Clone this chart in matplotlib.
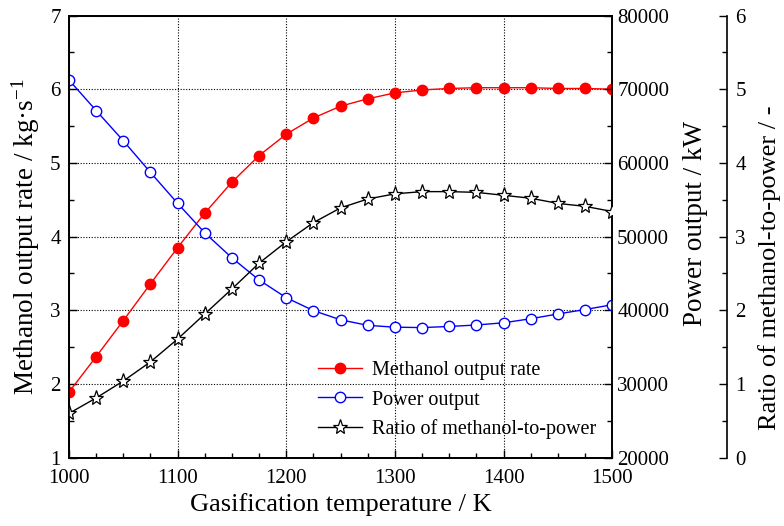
import numpy as np
import matplotlib
matplotlib.use("Agg")
from matplotlib import pyplot as plt
from matplotlib.ticker import MultipleLocator

plt.rcParams["font.family"] = ["Liberation Serif", "DejaVu Serif"]
plt.rcParams["mathtext.default"] = "regular"

temperature = list(range(1000, 1501, 25))
methanol_rate = [1.89, 2.37, 2.86, 3.36, 3.85, 4.32, 4.74, 5.10, 5.39, 5.61, 5.77,
                 5.87, 5.95, 5.99, 6.01, 6.02, 6.02, 6.02, 6.01, 6.01, 6.00]
power_output = [71250, 67100, 63000, 58700, 54500, 50500, 47100, 44100, 41700, 39950,
                38700, 37950, 37700, 37650, 37800, 38000, 38300, 38850, 39500, 40100, 40750]
ratio = [0.60, 0.81, 1.04, 1.30, 1.61, 1.95, 2.29, 2.64, 2.93, 3.19, 3.39,
         3.51, 3.58, 3.61, 3.61, 3.60, 3.56, 3.52, 3.45, 3.41, 3.34]

fig = plt.figure(figsize=(7.84, 5.26), dpi=100)
ax = fig.add_axes([0.088, 0.13, 0.693, 0.8405])
ax2 = ax.twinx()
ax3 = ax.twinx()
ax3.spines["right"].set_position(("axes", 1.211))

l1, = ax.plot(temperature, methanol_rate, "-o", color="red", lw=1, ms=7.5,
              mfc="red", mec="red", label="Methanol output rate", zorder=3)
l2, = ax2.plot(temperature, power_output, "-o", color="blue", lw=1, ms=7.5,
               mfc="white", mec="blue", label="Power output")
l3, = ax3.plot(temperature, ratio, "-*", color="black", lw=1, ms=11,
               mfc="white", mec="black", mew=0.9, label="Ratio of methanol-to-power")

ax.set_xlim(1000, 1500)
ax.set_ylim(1, 7)
ax2.set_ylim(20000, 80000)
ax3.set_ylim(0, 6)

ax.xaxis.set_major_locator(MultipleLocator(100))
ax.xaxis.set_minor_locator(MultipleLocator(25))
ax.yaxis.set_major_locator(MultipleLocator(1))
ax.yaxis.set_minor_locator(MultipleLocator(0.5))
ax2.yaxis.set_major_locator(MultipleLocator(10000))
ax2.yaxis.set_minor_locator(MultipleLocator(5000))
ax3.yaxis.set_major_locator(MultipleLocator(1))
ax3.yaxis.set_minor_locator(MultipleLocator(0.5))

ax.grid(True, which="major", color="black", ls=(0, (1, 1.5)), lw=0.8)

for a in (ax, ax2, ax3):
    a.tick_params(which="both", direction="in", labelsize=15)
    a.tick_params(which="major", length=6, width=1)
    a.tick_params(which="minor", length=3.5, width=1)
    for s in a.spines.values():
        s.set_linewidth(1.2)
ax.tick_params(axis="x", pad=8)
ax.tick_params(axis="y", pad=6)
ax3.tick_params(axis="y", pad=6)

ax.set_xlabel("Gasification temperature / K", fontsize=19)
ax.set_ylabel("Methanol output rate / kg·s$^{-1}$", fontsize=19.5)
ax2.set_ylabel("Power output / kW", fontsize=19.5)
ax3.set_ylabel("Ratio of methanol-to-power / -", fontsize=19)
ax.yaxis.set_label_coords(-0.05, 0.5)
ax2.yaxis.set_label_coords(1.13, 0.53)
ax3.yaxis.set_label_coords(1.268, 0.43)

ax.legend(handles=[l1, l2, l3], loc="lower left", bbox_to_anchor=(0.425, 0.0),
          frameon=False, fontsize=14.5, handlelength=2.2, handletextpad=0.5,
          labelspacing=0.5)

fig.savefig("out.png", dpi=100)
